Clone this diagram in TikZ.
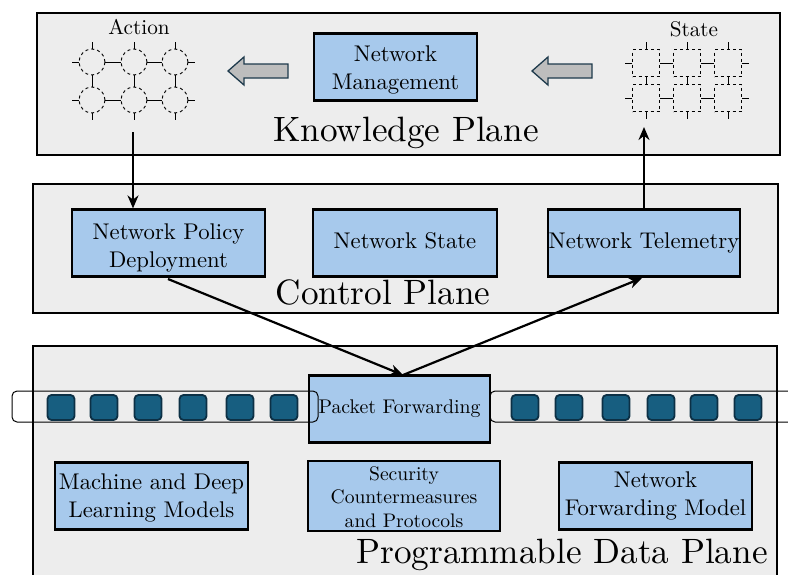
\documentclass[tikz,border=0pt]{standalone}
\usetikzlibrary{arrows.meta}
\definecolor{planegray}{HTML}{EDEDED}
\definecolor{boxblue}{HTML}{A7C9EC}
\definecolor{pktfill}{HTML}{175E80}
\definecolor{pktdraw}{HTML}{0C3045}
\definecolor{arrgray}{HTML}{BDBDBD}
\definecolor{arrdraw}{HTML}{1E3A4C}
\newcommand{\txt}[2]{\scalebox{#1}{\begin{tabular}{@{}c@{}}#2\end{tabular}}}
\newcommand{\lowr}[2]{\raisebox{-#1}[\height][\depth]{#2}}
\begin{document}
\begin{tikzpicture}[x=1pt,y=-1pt,
  plane/.style={draw=black,line width=1.2pt,fill=planegray},
  planelabel/.style={inner sep=0pt},
  bluebox/.style={draw=black,line width=2.2pt,fill=boxblue,minimum width=#1,minimum height=67pt,inner sep=0pt,align=center},
  circ/.style={circle,draw=black,dashed,line width=0.9pt,minimum size=26pt,inner sep=0pt},
  sq/.style={rectangle,draw=black,dashed,line width=0.9pt,minimum size=27pt,inner sep=0pt},
  link/.style={line width=1pt,black},
  pkt/.style={draw=pktdraw,fill=pktfill,line width=1.8pt,rounded corners=4pt,minimum width=27pt,minimum height=25pt,inner sep=0pt},
  queue/.style={draw=black,line width=1pt,rounded corners=5pt},
  blockarrow/.style={draw=arrdraw,fill=arrgray,line width=1.3pt,line join=miter},
  flow/.style={line width=2.2pt,-{Stealth[length=13pt,width=11pt]}},
  lbl/.style={inner sep=0pt}
]
\useasboundingbox (0,0) rectangle (788,574);
\fill[white] (0,0) rectangle (788,574);

% ---------- planes ----------
\draw[plane] (37,13) rectangle (780,155);
\draw[plane] (33,184) rectangle (778,313);
\draw[plane] (33,346) rectangle (777,600);

\node[planelabel] (kp) at (406,133) {\txt{3.52}{Knowledge Plane}};
\node[planelabel] (cp) at (383,296) {\txt{3.52}{Control Plane}};
\node[planelabel] (dp) at (562,555) {\txt{3.52}{Programmable Data Plane}};

% ---------- knowledge plane ----------
\node[bluebox=163pt] (nm) at (395.5,67) {\lowr{3pt}{\txt{2.27}{Network\\Management}}};

% block arrows
\draw[blockarrow] (228,71) -- (244,57) -- (244,64) -- (288,64) -- (288,78) -- (244,78) -- (244,85) -- cycle;
\draw[blockarrow] (532,71) -- (548,57) -- (548,64) -- (592,64) -- (592,78) -- (548,78) -- (548,85) -- cycle;

% action grid
\node[lbl] (actlbl) at (139,29) {\txt{2.12}{Action}};
\foreach \c/\x in {1/92,2/134,3/175}{
  \node[circ] (a1\c) at (\x,62) {};
  \node[circ] (a2\c) at (\x,100) {};
}
\draw[link] (a11) -- (a12) (a12) -- (a13) (a21) -- (a22) (a22) -- (a23);
\draw[link] (a11) -- (a21) (a12) -- (a22) (a13) -- (a23);
\foreach \c in {1,2,3}{
  \draw[link] (a1\c.north) -- ++(0,-7);
  \draw[link] (a2\c.south) -- ++(0,7);
}
\foreach \r in {1,2}{
  \draw[link] (a\r1.west) -- ++(-7,0);
  \draw[link] (a\r3.east) -- ++(7,0);
}

% state grid
\node[lbl] (stlbl) at (694,31) {\txt{2.12}{State}};
\foreach \c/\x in {1/646,2/687,3/728}{
  \node[sq] (s1\c) at (\x,63) {};
  \node[sq] (s2\c) at (\x,98) {};
}
\draw[link] (s11) -- (s12) (s12) -- (s13) (s21) -- (s22) (s22) -- (s23);
\draw[link] (s11) -- (s21) (s12) -- (s22) (s13) -- (s23);
\foreach \c in {1,2,3}{
  \draw[link] (s1\c.north) -- ++(0,-7);
  \draw[link] (s2\c.south) -- ++(0,7);
}
\foreach \r in {1,2}{
  \draw[link] (s\r1.west) -- ++(-7,0);
  \draw[link] (s\r3.east) -- ++(7,0);
}

% ---------- control plane ----------
\node[bluebox=193pt] (npd) at (168.5,243) {\lowr{5pt}{\txt{2.27}{Network Policy\\Deployment}}};
\node[bluebox=184pt] (ns) at (405,243) {\txt{2.27}{Network State}};
\node[bluebox=192pt] (nt) at (644,243) {\txt{2.27}{Network Telemetry}};

% ---------- data plane ----------
\node[bluebox=181pt] (pf) at (399.5,409) {\txt{1.98}{Packet Forwarding}};
\node[bluebox=193pt] (ml) at (151.5,496) {\lowr{2pt}{\txt{2.27}{Machine and Deep\\Learning Models}}};
\node[bluebox=192pt] (sc) at (404,496) {\lowr{3pt}{\txt{1.96}{Security\\Countermeasures\\and Protocols}}};
\node[bluebox=193pt] (nf) at (655.5,496) {\txt{2.27}{Network\\Forwarding Model}};

% queues
\draw[queue] (12,391) rectangle (318,422);
\draw[queue] (490,391) rectangle (800,422);
\foreach \i/\x in {1/61,2/104,3/148,4/193,5/240,6/284}{
  \node[pkt] (pl\i) at (\x,407.5) {};
}
\foreach \i/\x in {1/525,2/569,3/616,4/661,5/704,6/748}{
  \node[pkt] (pr\i) at (\x,407.5) {};
}

% ---------- connectors ----------
\coordinate (actout) at (133,132);
\coordinate (stin) at (644,127);
\coordinate (pftop) at (403,375);
\coordinate (npdout) at (168,279);
\coordinate (ntin) at (642,278);
\draw[flow] (actout) -- (actout |- npd.north);
\draw[flow] (stin |- nt.north) -- (stin);
\draw[flow] (npdout) -- (pftop);
\draw[flow] (pftop) -- (ntin);
\end{tikzpicture}
\end{document}
